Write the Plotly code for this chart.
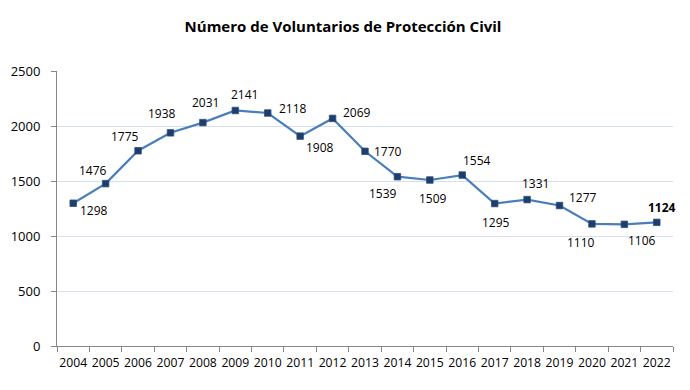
import plotly.graph_objects as go

years = ["2004", "2005", "2006", "2007", "2008", "2009", "2010", "2011", "2012", "2013",
         "2014", "2015", "2016", "2017", "2018", "2019", "2020", "2021", "2022"]
voluntarios = [1298, 1476, 1775, 1938, 2031, 2141, 2118, 1908, 2069, 1770,
               1539, 1509, 1554, 1295, 1331, 1277, 1110, 1106, 1124]
y_ticks = [0, 500, 1000, 1500, 2000, 2500]

# label offsets (pixels, style only)
label_dx = [21, -13, -13, -8, 3, 9, 25, 20, 24, 23, -14, 3, 15, 1, 8, 23, -11, 18, 5]
label_dy = [-7, 13, 14, 19, 20, 16, 5, -11, 6, 0, -17, -18, 15, -19, 16, 8, -19, -16, 15]

FONT = "Open Sans"

fig = go.Figure()
fig.add_trace(go.Scatter(
    x=years, y=voluntarios, mode="lines+markers",
    line=dict(color="#4A7EBB", width=2.2),
    marker=dict(symbol="square", size=6.5, color="#1F3D6B",
                line=dict(color="#2B4F80", width=0.8)),
    hoverinfo="x+y", showlegend=False,
))

for i, v in enumerate(voluntarios):
    last = i == len(voluntarios) - 1
    fig.add_annotation(
        x=i, y=v, xref="x", yref="y",
        text=f"<b>{v}</b>" if last else str(v), showarrow=False,
        xshift=label_dx[i], yshift=label_dy[i],
        font=dict(family=FONT, size=12, color="#000000"),
    )

fig.update_layout(
    width=690, height=390,
    margin=dict(l=48.5, r=24.8, t=63, b=52, autoexpand=False),
    paper_bgcolor="white", plot_bgcolor="white",
    title=dict(text="<b>Número de Voluntarios de Protección Civil</b>",
               x=335 / 690, xanchor="center", y=1 - 18.7 / 390, yanchor="middle",
               font=dict(family=FONT, size=15, color="#000000")),
    font=dict(family=FONT, size=12, color="#000000"),
)
fig.update_xaxes(
    type="category", range=[-0.5, 18.5], automargin=False, tickangle=0,
    showline=True, linecolor="#868686", linewidth=1,
    ticks="outside", tickson="boundaries", ticklen=5, tickcolor="#868686",
    ticklabelstandoff=5,
    showgrid=False, tickfont=dict(family=FONT, size=12.2, color="#000000"),
)
fig.update_yaxes(
    range=[0, 2500], tickvals=y_ticks, automargin=False,
    showline=True, linecolor="#868686", linewidth=1,
    ticks="outside", ticklen=5, tickcolor="#868686", ticklabelstandoff=8,
    showgrid=True, gridcolor="#D6E0EC", gridwidth=1,
    zeroline=False,
    tickfont=dict(family=FONT, size=13, color="#000000"),
)

fig.write_html("out.html")
